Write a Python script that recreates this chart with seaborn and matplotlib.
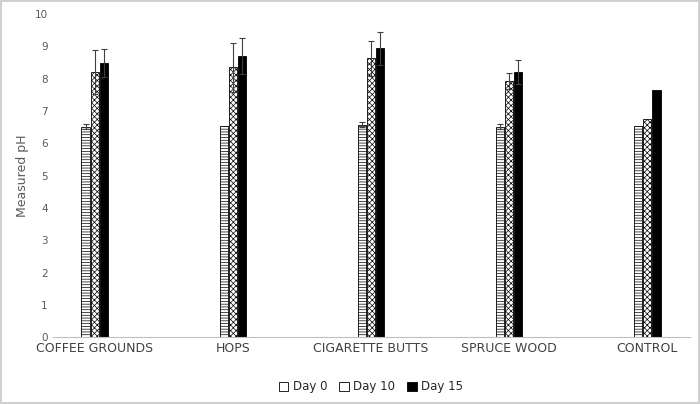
import matplotlib
matplotlib.use("Agg")
import matplotlib.pyplot as plt
import seaborn as sns
import pandas as pd
import numpy as np

categories = ["COFFEE GROUNDS", "HOPS", "CIGARETTE BUTTS", "SPRUCE WOOD", "CONTROL"]
series = ["Day 0", "Day 10", "Day 15"]
day0 = [6.52, 6.55, 6.58, 6.52, 6.55]
day10 = [8.20, 8.35, 8.63, 7.92, 6.75]
day15 = [8.50, 8.70, 8.94, 8.20, 7.65]
err0 = [0.08, 0.0, 0.07, 0.08, 0.0]
err10 = [0.68, 0.75, 0.53, 0.25, 0.0]
err15 = [0.43, 0.55, 0.50, 0.37, 0.0]

rows = []
for s, vals in zip(series, [day0, day10, day15]):
    for c, v in zip(categories, vals):
        rows.append({"cat": c, "series": s, "pH": v})
df = pd.DataFrame(rows)

sns.set_style("white")
plt.rcParams['font.family'] = ['DejaVu Sans']
plt.rcParams['hatch.linewidth'] = 0.5
fig, ax = plt.subplots(figsize=(7.0, 4.04), dpi=100)
fig.subplots_adjust(left=0.075, right=0.985, top=0.965, bottom=0.165)
fig.patch.set_edgecolor("#d0d0d0")
fig.patch.set_linewidth(1.5)

sns.barplot(data=df, x="cat", y="pH", hue="series", order=categories, hue_order=series,
            palette=["white", "white", "black"], width=0.2, gap=0.1,
            edgecolor="black", linewidth=0.6, ax=ax, errorbar=None)

hatches = ["------", "xxxxxx", ""]
errs = [err0, err10, err15]
bar_containers = list(ax.containers)
for i, cont in enumerate(bar_containers):
    for j, p in enumerate(cont.patches):
        p.set_hatch(hatches[i])
        if errs[i][j] > 0:
            ax.errorbar(p.get_x() + p.get_width() / 2, p.get_height(), yerr=errs[i][j],
                        fmt="none", ecolor="#404040", elinewidth=0.8, capsize=2.5, capthick=0.8)

ax.set_ylim(0, 10)
ax.set_yticks(range(0, 11))
ax.set_xlabel("")
ax.set_ylabel("Measured pH", color="#595959", fontsize=9)
ax.tick_params(axis="y", labelsize=7.5, colors="#595959", length=0)
ax.tick_params(axis="x", labelsize=9, colors="#404040", length=0)
for s in ["top", "right", "left"]:
    ax.spines[s].set_visible(False)
ax.spines["bottom"].set_color("#bfbfbf")
ax.legend(title=None, loc="upper center", bbox_to_anchor=(0.5, -0.1), ncol=3, frameon=False,
          fontsize=8.5, handlelength=0.8, handleheight=0.8, columnspacing=1.0, handletextpad=0.4)
fig.savefig("out.png", dpi=100, edgecolor=fig.get_edgecolor())
